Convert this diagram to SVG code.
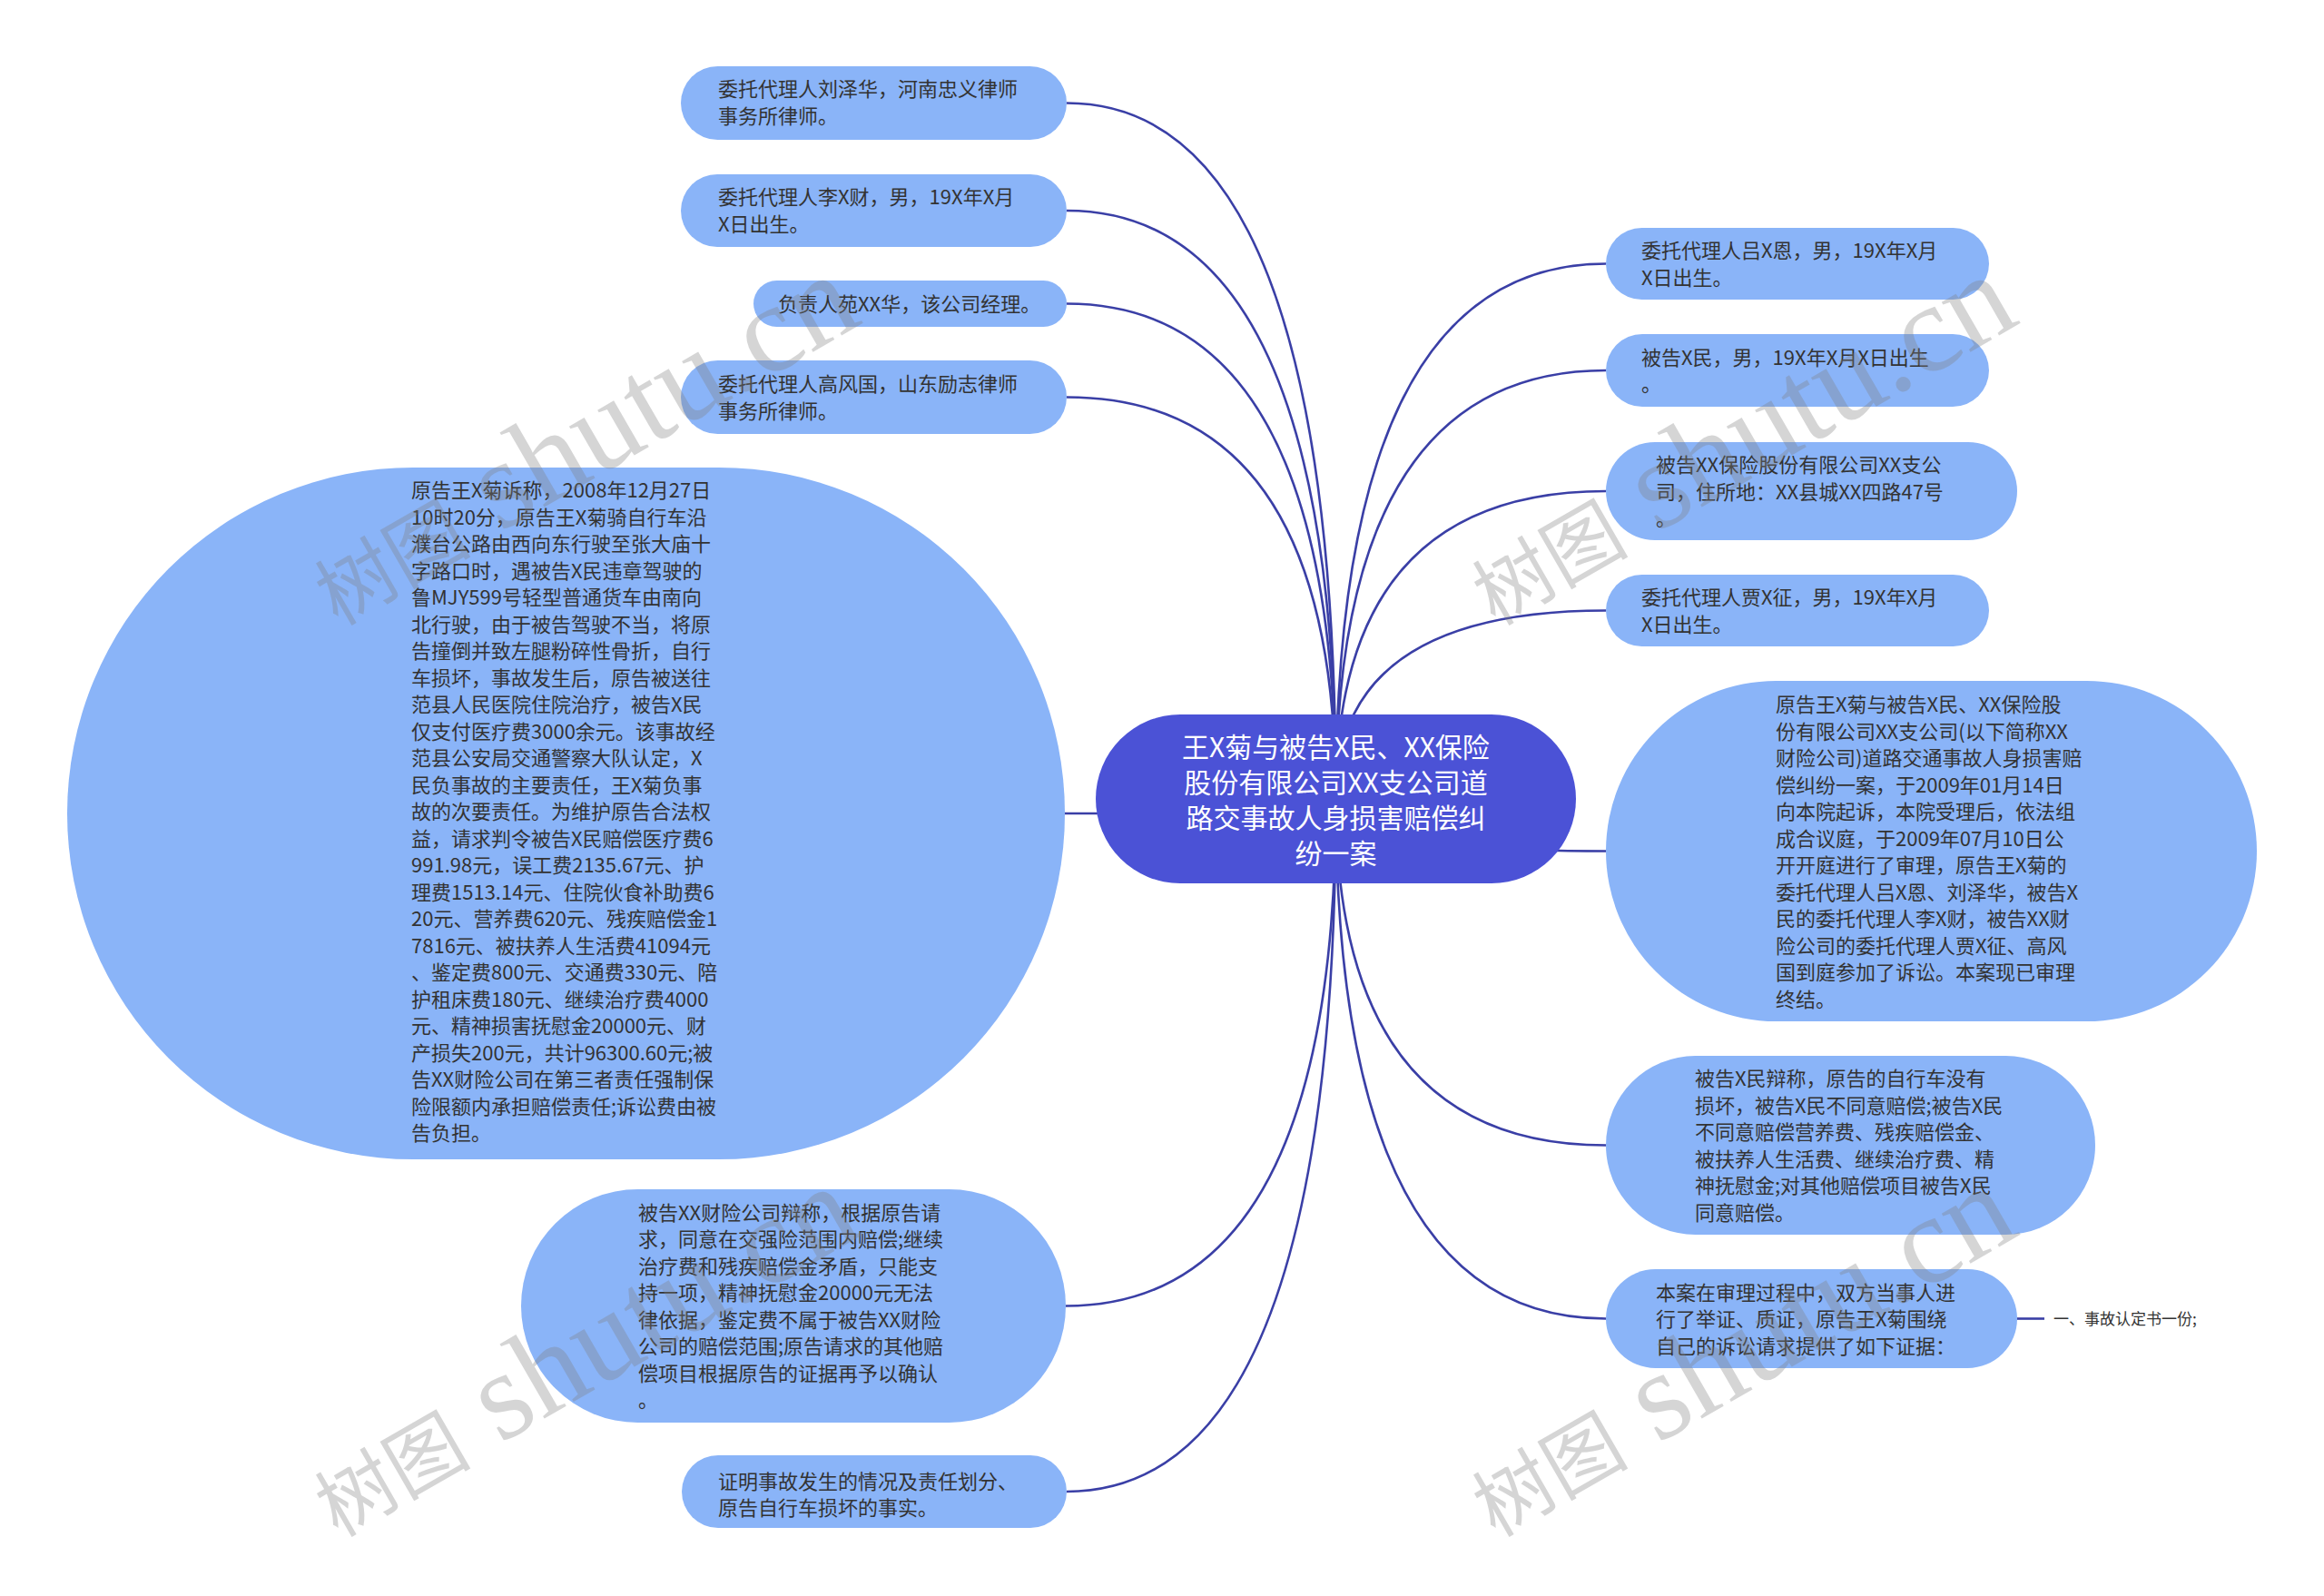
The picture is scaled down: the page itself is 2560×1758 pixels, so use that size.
<svg xmlns="http://www.w3.org/2000/svg" width="2560" height="1758" viewBox="0 0 2560 1758">
<style>
.bg{fill:#ffffff}
.link{fill:none;stroke:#3a3fa6;stroke-width:2.6}
.node{fill:#8ab4f8}
.root{fill:#4b52d6}
.t{font-family:'Noto Sans CJK SC','Noto Sans',sans-serif;font-size:22px;fill:#333333}
.rt{font-family:'Noto Sans CJK SC','Noto Sans',sans-serif;font-size:30px;fill:#ffffff;text-anchor:middle}
.leaf{font-family:'Noto Sans CJK SC','Noto Sans',sans-serif;font-size:17px;fill:#333333}
.wm{font-family:'Liberation Serif','Noto Sans CJK SC',serif;fill:#808080;fill-opacity:0.33}
</style>
<rect class="bg" x="0" y="0" width="2560" height="1758"/>
<g id="connectors">
<path class="link" d="M1471.5 880 Q1471.5 113.5 1175 113.5"/>
<path class="link" d="M1471.5 880 Q1471.5 232 1175 232"/>
<path class="link" d="M1471.5 880 Q1471.5 334.5 1175 334.5"/>
<path class="link" d="M1471.5 880 Q1471.5 437.5 1175 437.5"/>
<path class="link" d="M1471.5 880 Q1471.5 896 1173 896"/>
<path class="link" d="M1471.5 880 Q1471.5 1438.5 1174 1438.5"/>
<path class="link" d="M1471.5 880 Q1471.5 1643 1175 1643"/>
<path class="link" d="M1471.5 880 Q1471.5 290.5 1769 290.5"/>
<path class="link" d="M1471.5 880 Q1471.5 408 1769 408"/>
<path class="link" d="M1471.5 880 Q1471.5 541 1769 541"/>
<path class="link" d="M1471.5 880 Q1471.5 672.5 1769 672.5"/>
<path class="link" d="M1471.5 880 Q1471.5 937.5 1769 937.5"/>
<path class="link" d="M1471.5 880 Q1471.5 1261.5 1769 1261.5"/>
<path class="link" d="M1471.5 880 Q1471.5 1452.5 1769 1452.5"/>
<path class="link" d="M2222 1452.5 L2252 1452.5"/>
</g>
<g id="root">
<rect class="root" x="1207" y="787" width="529" height="186" rx="93"/>
<text class="rt"><tspan x="1471.5" y="833.5">王X菊与被告X民、XX保险</tspan><tspan x="1471.5" y="872.5">股份有限公司XX支公司道</tspan><tspan x="1471.5" y="911.5">路交事故人身损害赔偿纠</tspan><tspan x="1471.5" y="950.5">纷一案</tspan></text>
</g>
<g id="n-liu">
<rect class="node" x="750" y="73" width="425" height="81" rx="40.5"/>
<text class="t"><tspan x="791" y="106">委托代理人刘泽华，河南忠义律师</tspan><tspan x="791" y="136">事务所律师。</tspan></text>
</g>
<g id="n-li">
<rect class="node" x="750" y="192" width="425" height="80" rx="40"/>
<text class="t"><tspan x="791" y="225">委托代理人李X财，男，19X年X月</tspan><tspan x="791" y="255">X日出生。</tspan></text>
</g>
<g id="n-yuan">
<rect class="node" x="830" y="309" width="345" height="51" rx="25.5"/>
<text class="t"><tspan x="857" y="343">负责人苑XX华，该公司经理。</tspan></text>
</g>
<g id="n-gao">
<rect class="node" x="750" y="397" width="425" height="81" rx="40.5"/>
<text class="t"><tspan x="791" y="430.5">委托代理人高风国，山东励志律师</tspan><tspan x="791" y="460.5">事务所律师。</tspan></text>
</g>
<g id="n-claim">
<rect class="node" x="74" y="515" width="1099" height="762" rx="381"/>
<text class="t">
<tspan x="453" y="548">原告王X菊诉称，2008年12月27日</tspan>
<tspan x="453" y="577.5">10时20分，原告王X菊骑自行车沿</tspan>
<tspan x="453" y="607">濮台公路由西向东行驶至张大庙十</tspan>
<tspan x="453" y="636.5">字路口时，遇被告X民违章驾驶的</tspan>
<tspan x="453" y="666">鲁MJY599号轻型普通货车由南向</tspan>
<tspan x="453" y="695.5">北行驶，由于被告驾驶不当，将原</tspan>
<tspan x="453" y="725">告撞倒并致左腿粉碎性骨折，自行</tspan>
<tspan x="453" y="754.5">车损坏，事故发生后，原告被送往</tspan>
<tspan x="453" y="784">范县人民医院住院治疗，被告X民</tspan>
<tspan x="453" y="813.5">仅支付医疗费3000余元。该事故经</tspan>
<tspan x="453" y="843">范县公安局交通警察大队认定，X</tspan>
<tspan x="453" y="872.5">民负事故的主要责任，王X菊负事</tspan>
<tspan x="453" y="902">故的次要责任。为维护原告合法权</tspan>
<tspan x="453" y="931.5">益，请求判令被告X民赔偿医疗费6</tspan>
<tspan x="453" y="961">991.98元，误工费2135.67元、护</tspan>
<tspan x="453" y="990.5">理费1513.14元、住院伙食补助费6</tspan>
<tspan x="453" y="1020">20元、营养费620元、残疾赔偿金1</tspan>
<tspan x="453" y="1049.5">7816元、被扶养人生活费41094元</tspan>
<tspan x="453" y="1079">、鉴定费800元、交通费330元、陪</tspan>
<tspan x="453" y="1108.5">护租床费180元、继续治疗费4000</tspan>
<tspan x="453" y="1138">元、精神损害抚慰金20000元、财</tspan>
<tspan x="453" y="1167.5">产损失200元，共计96300.60元;被</tspan>
<tspan x="453" y="1197">告XX财险公司在第三者责任强制保</tspan>
<tspan x="453" y="1226.5">险限额内承担赔偿责任;诉讼费由被</tspan>
<tspan x="453" y="1256">告负担。</tspan>
</text>
</g>
<g id="n-insurer-defense">
<rect class="node" x="574" y="1310" width="600" height="257" rx="128.5"/>
<text class="t">
<tspan x="703" y="1343.5">被告XX财险公司辩称，根据原告请</tspan>
<tspan x="703" y="1373">求，同意在交强险范围内赔偿;继续</tspan>
<tspan x="703" y="1402.5">治疗费和残疾赔偿金矛盾，只能支</tspan>
<tspan x="703" y="1432">持一项，精神抚慰金20000元无法</tspan>
<tspan x="703" y="1461.5">律依据，鉴定费不属于被告XX财险</tspan>
<tspan x="703" y="1491">公司的赔偿范围;原告请求的其他赔</tspan>
<tspan x="703" y="1520.5">偿项目根据原告的证据再予以确认</tspan>
<tspan x="703" y="1550">。</tspan>
</text>
</g>
<g id="n-proof">
<rect class="node" x="751" y="1603" width="424" height="80" rx="40"/>
<text class="t"><tspan x="791" y="1640">证明事故发生的情况及责任划分、</tspan><tspan x="791" y="1669">原告自行车损坏的事实。</tspan></text>
</g>
<g id="n-lv">
<rect class="node" x="1769" y="251" width="422" height="79" rx="39.5"/>
<text class="t"><tspan x="1808" y="284">委托代理人吕X恩，男，19X年X月</tspan><tspan x="1808" y="313.5">X日出生。</tspan></text>
</g>
<g id="n-min">
<rect class="node" x="1769" y="368" width="422" height="80" rx="40"/>
<text class="t"><tspan x="1808" y="401.5">被告X民，男，19X年X月X日出生</tspan><tspan x="1808" y="431">。</tspan></text>
</g>
<g id="n-company">
<rect class="node" x="1769" y="487" width="453" height="108" rx="54"/>
<text class="t"><tspan x="1824" y="520">被告XX保险股份有限公司XX支公</tspan><tspan x="1824" y="549.5">司，住所地：XX县城XX四路47号</tspan><tspan x="1824" y="579">。</tspan></text>
</g>
<g id="n-jia">
<rect class="node" x="1769" y="633" width="422" height="79" rx="39.5"/>
<text class="t"><tspan x="1808" y="666">委托代理人贾X征，男，19X年X月</tspan><tspan x="1808" y="695.5">X日出生。</tspan></text>
</g>
<g id="n-case">
<rect class="node" x="1769" y="750" width="717" height="375" rx="187.5"/>
<text class="t">
<tspan x="1956" y="784">原告王X菊与被告X民、XX保险股</tspan>
<tspan x="1956" y="813.5">份有限公司XX支公司(以下简称XX</tspan>
<tspan x="1956" y="843">财险公司)道路交通事故人身损害赔</tspan>
<tspan x="1956" y="872.5">偿纠纷一案，于2009年01月14日</tspan>
<tspan x="1956" y="902">向本院起诉，本院受理后，依法组</tspan>
<tspan x="1956" y="931.5">成合议庭，于2009年07月10日公</tspan>
<tspan x="1956" y="961">开开庭进行了审理，原告王X菊的</tspan>
<tspan x="1956" y="990.5">委托代理人吕X恩、刘泽华，被告X</tspan>
<tspan x="1956" y="1020">民的委托代理人李X财，被告XX财</tspan>
<tspan x="1956" y="1049.5">险公司的委托代理人贾X征、高风</tspan>
<tspan x="1956" y="1079">国到庭参加了诉讼。本案现已审理</tspan>
<tspan x="1956" y="1108.5">终结。</tspan>
</text>
</g>
<g id="n-min-defense">
<rect class="node" x="1769" y="1163" width="539" height="197" rx="98.5"/>
<text class="t">
<tspan x="1867" y="1196">被告X民辩称，原告的自行车没有</tspan>
<tspan x="1867" y="1225.5">损坏，被告X民不同意赔偿;被告X民</tspan>
<tspan x="1867" y="1255">不同意赔偿营养费、残疾赔偿金、</tspan>
<tspan x="1867" y="1284.5">被扶养人生活费、继续治疗费、精</tspan>
<tspan x="1867" y="1314">神抚慰金;对其他赔偿项目被告X民</tspan>
<tspan x="1867" y="1343.5">同意赔偿。</tspan>
</text>
</g>
<g id="n-evidence">
<rect class="node" x="1769" y="1398" width="453" height="109" rx="54.5"/>
<text class="t"><tspan x="1824" y="1431.5">本案在审理过程中，双方当事人进</tspan><tspan x="1824" y="1461">行了举证、质证，原告王X菊围绕</tspan><tspan x="1824" y="1490.5">自己的诉讼请求提供了如下证据：</tspan></text>
</g>
<g id="n-leaf">
<text class="leaf" x="2262" y="1459">一、事故认定书一份;</text>
</g>
<g id="watermarks">
<text class="wm" transform="translate(372,690) rotate(-30)"><tspan font-size="86">树图</tspan><tspan font-size="138"> shutu.cn</tspan></text>
<text class="wm" transform="translate(1647,690) rotate(-30)"><tspan font-size="86">树图</tspan><tspan font-size="138"> shutu.cn</tspan></text>
<text class="wm" transform="translate(372,1694) rotate(-30)"><tspan font-size="86">树图</tspan><tspan font-size="138"> shutu.cn</tspan></text>
<text class="wm" transform="translate(1647,1694) rotate(-30)"><tspan font-size="86">树图</tspan><tspan font-size="138"> shutu.cn</tspan></text>
</g>
</svg>
